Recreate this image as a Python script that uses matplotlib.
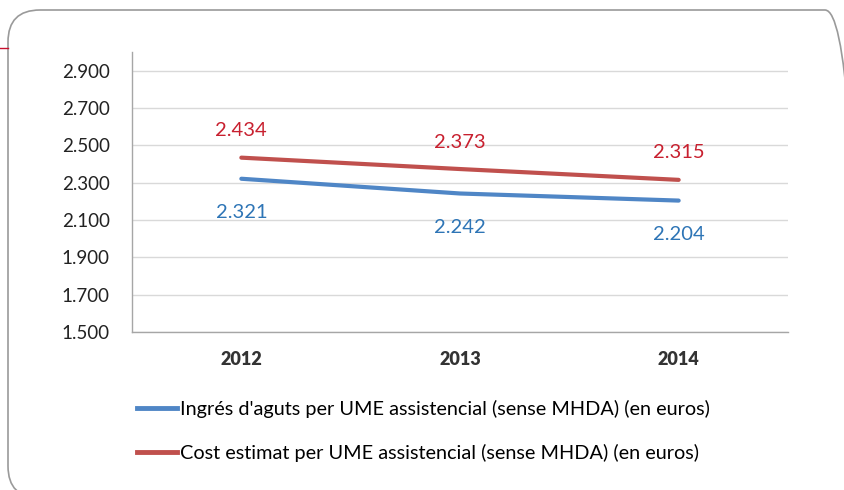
import matplotlib
matplotlib.use("Agg")
import matplotlib.pyplot as plt
from matplotlib.patches import FancyBboxPatch
from matplotlib.lines import Line2D
from matplotlib.ticker import FuncFormatter

years = ["2012", "2013", "2014"]
ingres = [2321, 2242, 2204]
cost = [2434, 2373, 2315]
label_ingres = "Ingrés d'aguts per UME assistencial (sense MHDA) (en euros)"
label_cost = "Cost estimat per UME assistencial (sense MHDA) (en euros)"
yticks = [1500, 1700, 1900, 2100, 2300, 2500, 2700, 2900]

blue = "#4F86C6"
red = "#C0504D"
blue_txt = "#2E75B6"
red_txt = "#C8202F"

plt.rcParams['font.family'] = ['Lato', 'DejaVu Sans']

W, H = 845, 490
fig = plt.figure(figsize=(W / 100, H / 100), dpi=100)

# rounded frame, in pixel units (inches*100), y measured from top
box = FancyBboxPatch((8 / 100, (H - 498) / 100), (857 - 8) / 100, (498 - 10) / 100,
                     boxstyle="round,pad=0,rounding_size=0.32",
                     transform=fig.dpi_scale_trans, fill=False,
                     edgecolor="#9A9A9A", linewidth=1.2)
fig.patches.append(box)
fig.add_artist(Line2D([0, 8 / 100], [(H - 48) / 100] * 2, color="#C8102E",
                      linewidth=1.0, transform=fig.dpi_scale_trans))

ax = fig.add_axes([132 / W, (H - 332) / H, (788 - 132) / W, (332 - 52) / H])
x = list(range(len(years)))
ax.plot(x, ingres, color=blue, linewidth=3, solid_capstyle="round")
ax.plot(x, cost, color=red, linewidth=3, solid_capstyle="round")

fmt = lambda v: "{:.3f}".format(v / 1000)
for xi, v in zip(x, ingres):
    ax.annotate(fmt(v), (xi, v), xytext=(0, -34), textcoords="offset pixels",
                ha="center", va="center", color=blue_txt, fontsize=14.5)
for xi, v in zip(x, cost):
    ax.annotate(fmt(v), (xi, v), xytext=(0, 27), textcoords="offset pixels",
                ha="center", va="center", color=red_txt, fontsize=14.5)

ax.set_xlim(-0.5, 2.5)
ax.set_ylim(1500, 3000)
ax.set_yticks(yticks)
ax.yaxis.set_major_formatter(FuncFormatter(lambda v, p: fmt(v)))
ax.set_xticks(x)
ax.set_xticklabels(years, fontweight="heavy", color="#333333")
ax.tick_params(axis="y", length=0, pad=16, labelsize=13.5, labelcolor="#222222")
ax.tick_params(axis="x", length=0, pad=14, labelsize=13)
ax.grid(axis="y", color="#D9D9D9", linewidth=1)
ax.set_axisbelow(True)
for s in ["top", "right"]:
    ax.spines[s].set_visible(False)
for s in ["left", "bottom"]:
    ax.spines[s].set_color("#A6A6A6")
    ax.spines[s].set_linewidth(1)

handles = [Line2D([], [], color=blue, linewidth=3.5),
           Line2D([], [], color=red, linewidth=3.5)]
fig.legend(handles, [label_ingres, label_cost], loc="upper left",
           bbox_to_anchor=(137 / W, (H - 400) / H), frameon=False,
           borderpad=0, borderaxespad=0,
           fontsize=14.3, handlelength=2.0, handletextpad=0.15,
           labelspacing=1.3)

fig.savefig("out.png", dpi=100)
